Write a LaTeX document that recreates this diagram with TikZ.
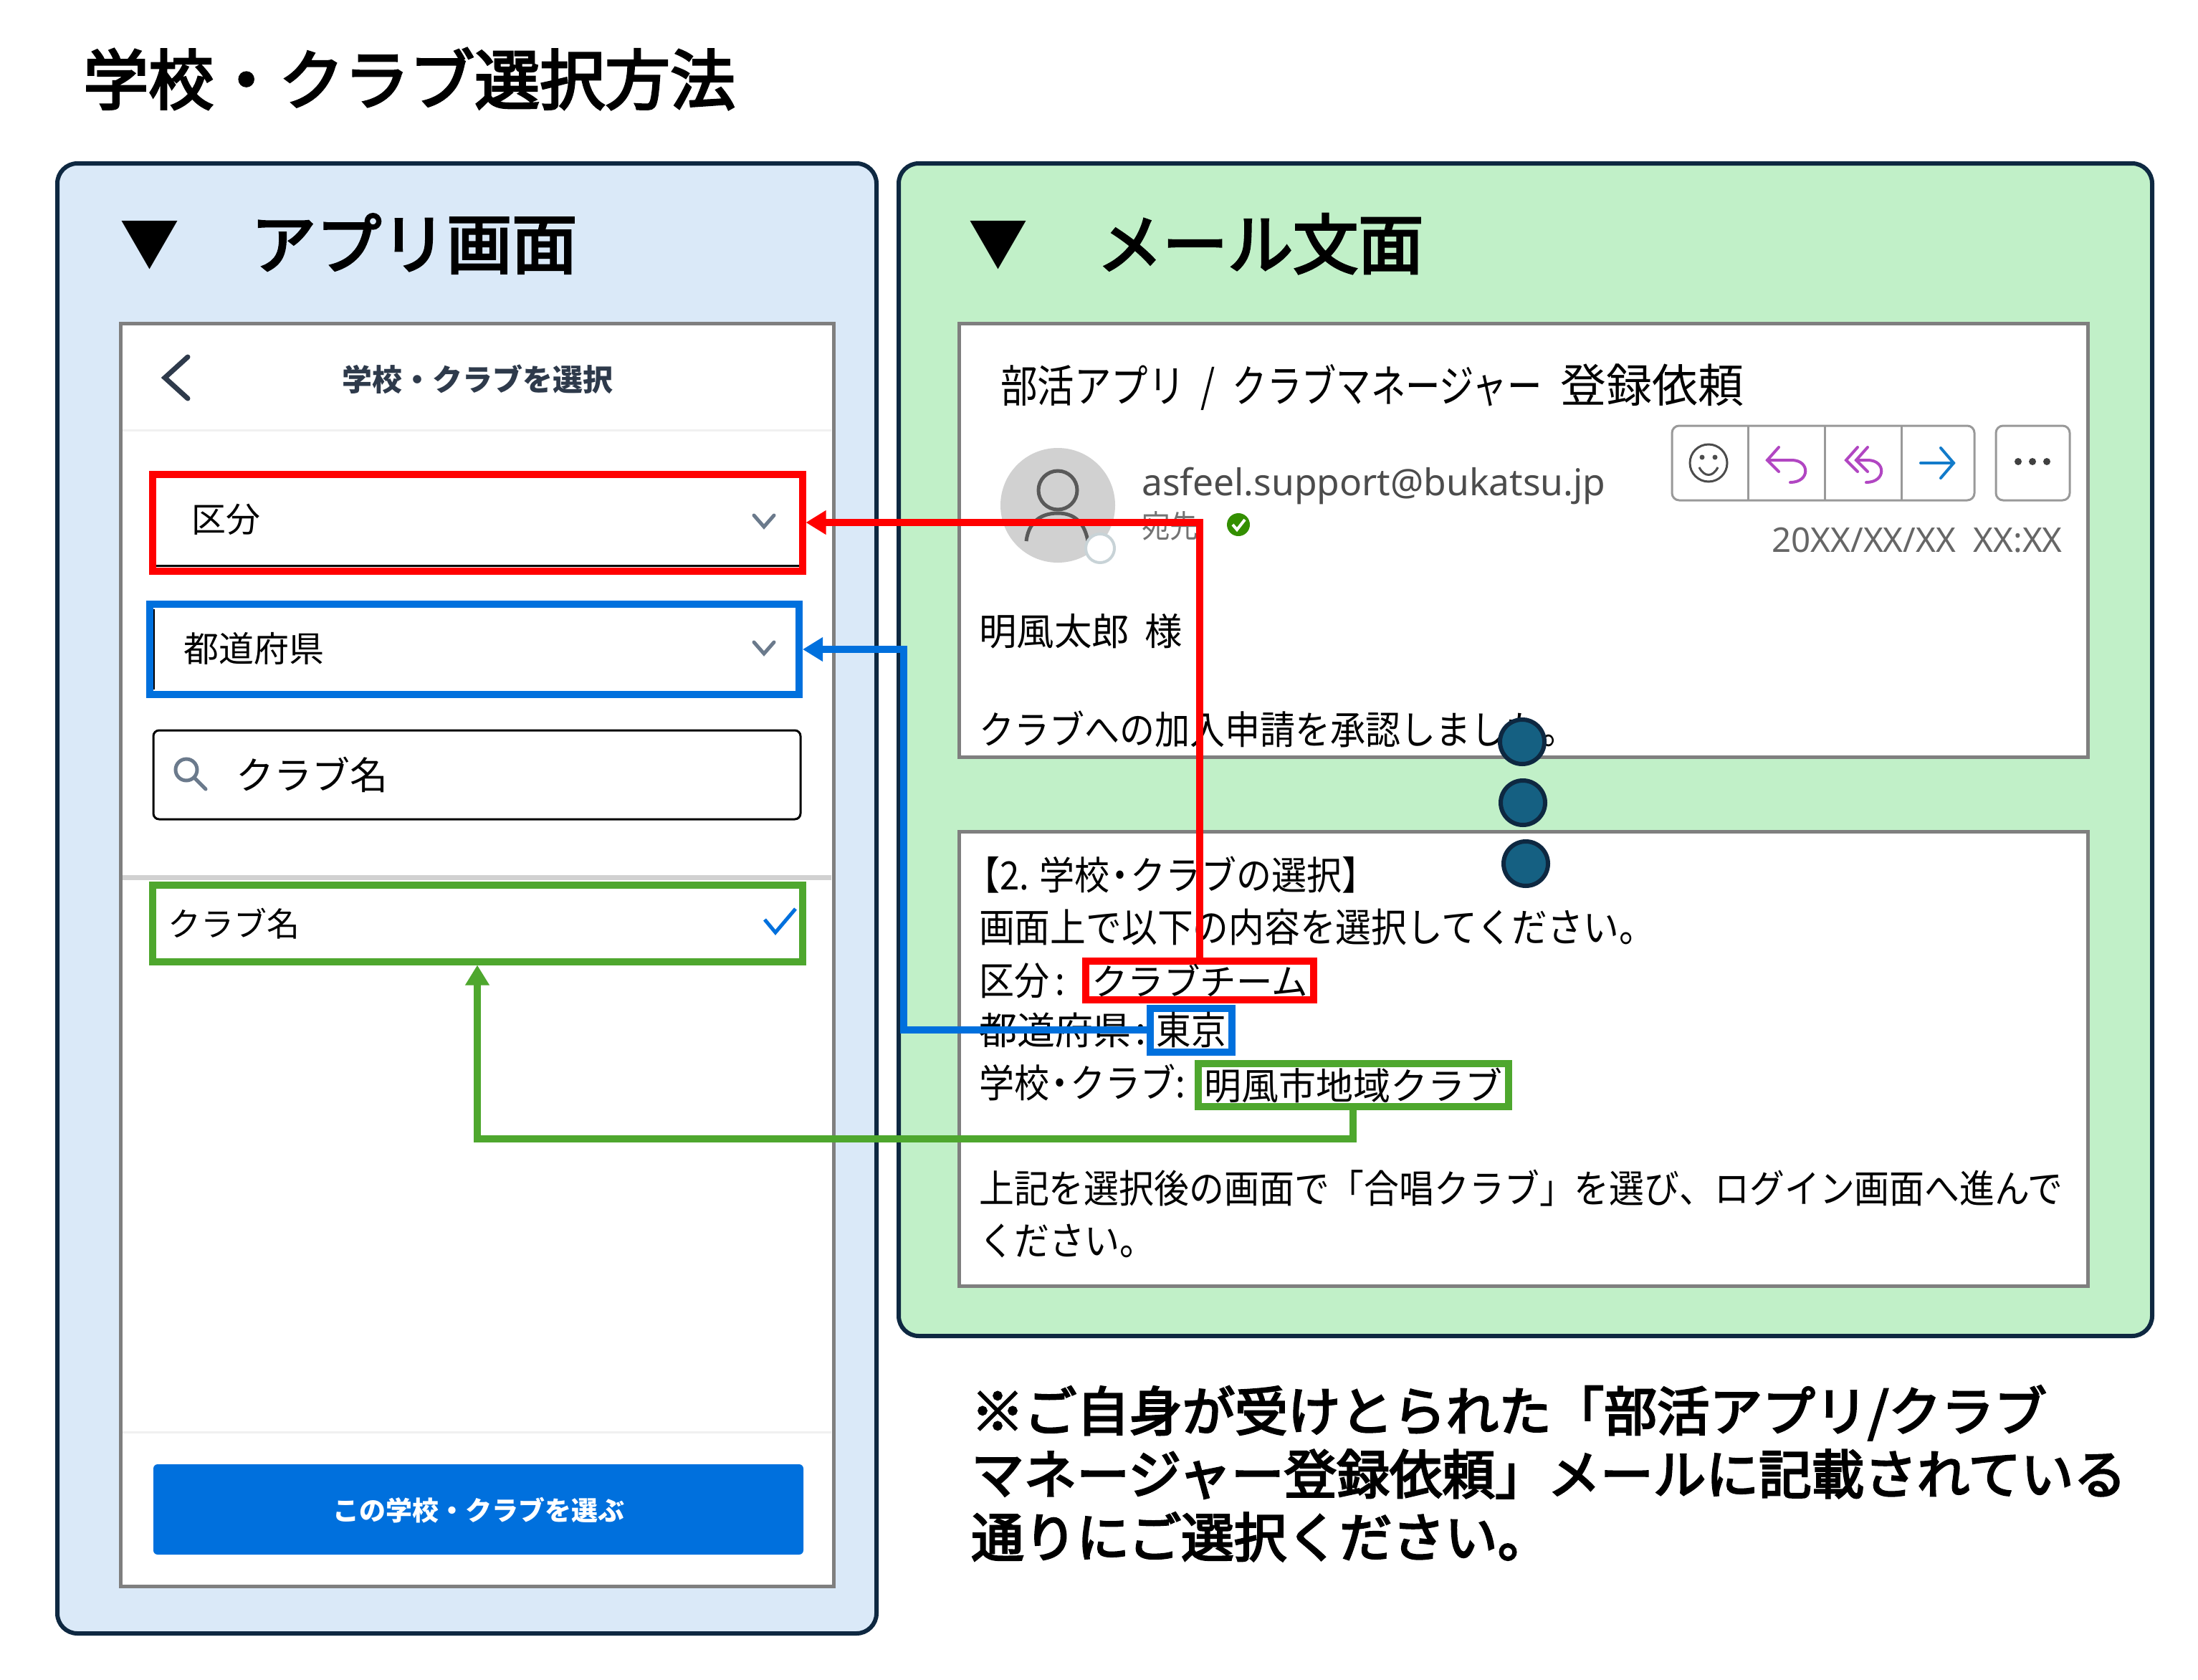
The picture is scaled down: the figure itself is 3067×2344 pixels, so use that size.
\documentclass[tikz,border=0pt]{standalone}
\usepackage{fontspec}
\usetikzlibrary{arrows.meta}
\setmainfont{Noto Sans CJK JP}
\newfontfamily\cjkmail[FakeStretch=0.9]{Noto Sans CJK JP}
\newfontfamily\cjksubject[FakeStretch=0.83]{Noto Sans CJK JP}
\newfontfamily\cjktight[FakeStretch=0.78]{Noto Sans CJK JP}
\newfontfamily\cjkhead[FakeBold=3.5]{Noto Sans CJK JP}
\newfontfamily\latinmail{Noto Sans}
\newcommand{\fsize}[1]{\fontsize{#1}{#1}\selectfont}
\definecolor{panelblue}{HTML}{DAE9F8}
\definecolor{panelgreen}{HTML}{C1F0C8}
\definecolor{paneledge}{HTML}{0E2841}
\definecolor{dotfill}{HTML}{156082}
\definecolor{markred}{HTML}{FF0000}
\definecolor{markblue}{HTML}{0070DD}
\definecolor{markgreen}{HTML}{4EA72E}
\definecolor{slate}{HTML}{2E3A4B}
\definecolor{iconslate}{HTML}{6B7A8C}
\definecolor{frame}{HTML}{7F7F7F}
\definecolor{replypurple}{HTML}{B146C2}
\tikzset{
  panel/.style={draw=paneledge,line width=6pt,rounded corners=28pt},
  screen/.style={draw=frame,line width=5pt,fill=white},
  heading/.style={anchor=west,inner sep=0pt,font=\cjkhead\fsize{91}},
  marker/.style={inner sep=0pt,font=\fsize{83}},
  appbox/.style={draw,line width=10pt,inner sep=0pt,minimum width=907pt},
  apptext/.style={anchor=west,inner sep=0pt,font=\fsize{48}},
  refbox/.style={draw,line width=10pt,inner sep=0pt,fill=white},
  mailtext/.style={anchor=west,inner sep=0pt,font=\cjkmail\fsize{54.5}},
  link/.style={line width=10pt,-{Triangle[length=28pt,width=32pt]}},
  chevron/.style={draw=iconslate,line width=5pt,line cap=round},
  toolline/.style={draw=black!40,line width=3pt},
  replyline/.style={draw=replypurple,line width=4pt,line cap=round},
  dot/.style={circle,draw=paneledge,line width=6pt,fill=dotfill,inner sep=0pt,minimum size=62pt}
}
\begin{document}
\begin{tikzpicture}[x=1pt,y=-1pt]
  \useasboundingbox [fill=white] (0,0) rectangle (3067,2344);
  \node[heading] (maintitle) at (116,110) {学校・クラブ選択方法};
  % left panel
  \draw [panel,fill=panelblue] (80,228) rectangle (1223,2279);
  \node[marker] (appmark) at (209,342) {▼};
  \node[heading] (apptitle) at (350,340) {アプリ画面};
  \draw [screen] (168,451) rectangle (1163,2213);
  \draw [draw=black!6,line width=3pt] (171,600) -- (1160,600);
  \draw [draw=black!18,line width=7pt] (171,1224) -- (1160,1224);
  \draw [draw=black!6,line width=3pt] (171,1998) -- (1160,1998);
  \draw [draw=slate,line width=7pt,line cap=round] (262,498) -- (230,527) -- (262,556);
  \node[font=\bfseries\fsize{42},text=slate,inner sep=0pt] (apphead) at (666,529) {学校・クラブを選択};
  \draw [draw=black,line width=3pt] (217,789) -- (1115,789);
  \draw [draw=black,line width=2pt] (215,850) -- (215,962);
  \draw [draw=black,line width=3pt,rounded corners=8pt,fill=white] (214,1019) rectangle (1117,1143);
  \node[apptext] (kubunlabel) at (267,725) {区分};
  \node[apptext,font=\fsize{49}] (todolabel) at (256,905) {都道府県};
  \node[apptext,font=\fsize{53}] (searchlabel) at (329,1081) {クラブ名};
  \node[apptext,font=\fsize{46}] (clublabel) at (234,1289) {クラブ名};
  \draw [chevron] (1052,719) -- (1066,735) -- (1080,719);
  \draw [chevron] (1052,896) -- (1066,912) -- (1080,896);
  \draw [chevron] (260,1074) circle (15pt);
  \draw [chevron] (271,1085) -- (287,1101);
  \draw [draw=markblue,line width=5pt] (1067,1283) -- (1082,1301) -- (1110,1268);
  \node[appbox,draw=markred,minimum height=135pt] (kubunbox) at (666,729) {};
  \node[appbox,draw=markblue,minimum width=906pt,minimum height=126pt] (todobox) at (662,906) {};
  \node[appbox,draw=markgreen,minimum height=107pt] (clubbox) at (666,1288) {};
  \draw [fill=markblue,draw=none,rounded corners=6pt] (214,2043) rectangle (1121,2169);
  \node[font=\bfseries\fsize{37},text=white,inner sep=0pt] (selectbtn) at (668,2107) {この学校・クラブを選ぶ};
  % right panel
  \draw [panel,fill=panelgreen] (1254,228) rectangle (3003,1864);
  \node[marker] (mailmark) at (1393,342) {▼};
  \node[heading] (mailtitle) at (1531,340) {メール文面};
  \draw [screen] (1338,451) rectangle (2913,1056);
  \draw [screen] (1338,1160) rectangle (2913,1794);
  \node[mailtext,font=\cjksubject\fsize{62}] (subject) at (1396,540) {部活アプリ\kern10pt{} /\kern13pt{} {\cjktight クラブマネージャー}\kern14pt{} {\normalfont\fsize{64}登録依頼}};
  \fill [black!18] (1476,705) circle (80pt);
  \draw [draw=black!65,line width=5pt] (1476,684) circle (27pt);
  \draw [draw=black!65,line width=5pt] (1432,755) .. controls (1436,722) and (1460,716) .. (1476,716) .. controls (1492,716) and (1512,722) .. (1518,755);
  \draw [draw=cyan!30!black!25,line width=4pt,fill=white] (1535,765) circle (20pt);
  \node[anchor=west,inner sep=0pt,font=\latinmail\fsize{51.5},text=black!70] (sender) at (1593,678) {asfeel.support@bukatsu.jp};
  \node[anchor=west,inner sep=0pt,font=\cjkmail\fsize{44},text=black!55] (toname) at (1593,734) {宛先};
  \fill [green!45!black!80!yellow] (1728,732) circle (16pt);
  \draw [draw=white,line width=4pt] (1720,732) -- (1726,739) -- (1737,725);
  \draw [toolline,rounded corners=10pt] (2333,594) rectangle (2755,698);
  \draw [toolline,rounded corners=10pt] (2785,594) rectangle (2888,698);
  \draw [toolline] (2439,594) -- (2439,698);
  \draw [toolline] (2546,594) -- (2546,698);
  \draw [toolline] (2653,594) -- (2653,698);
  \draw [draw=black!70,line width=3pt] (2384,646) circle (26pt);
  \fill [black!70] (2375,638) circle (3.5pt) (2393,638) circle (3.5pt);
  \draw [draw=black!70,line width=3pt] (2371,652) .. controls (2378,666) and (2390,666) .. (2397,652);
  \draw [replyline] (2482,624) -- (2466,642) -- (2482,658);
  \draw [replyline] (2466,642) -- (2500,642) .. controls (2526,642) and (2526,673) .. (2498,673);
  \draw [replyline] (2592,624) -- (2576,642) -- (2592,658);
  \draw [replyline] (2606,624) -- (2590,642) -- (2606,658);
  \draw [replyline] (2590,642) -- (2606,642) .. controls (2632,642) and (2632,673) .. (2604,673);
  \draw [draw=cyan!60!blue,line width=4pt,line cap=round] (2680,646) -- (2726,646);
  \draw [draw=cyan!60!blue,line width=4pt,line cap=round] (2708,625) -- (2726,646) -- (2708,667);
  \fill [black!75] (2816,644) circle (5pt) (2836,644) circle (5pt) (2856,644) circle (5pt);
  \node[anchor=east,inner sep=0pt,font=\latinmail\fsize{47.5},text=black!60] (maildate) at (2878,754) {20XX/XX/XX\ \ XX:XX};
  \node[mailtext,font=\fsize{52.5}] (addressee) at (1366,881) {明風太郎\kern10pt{} 様};
  \node[mailtext] (approved) at (1366,1017) {クラブへの加入申請を承認しました。};
  \node[mailtext] (stephead) at (1346,1220) {【2. 学校\kern-10pt・\kern-10pt クラブの選択】};
  \node[mailtext,font=\cjkmail\fsize{55.3}] (stepline) at (1366,1294) {画面上で以下の内容を選択してください。};
  \node[mailtext] (kubunname) at (1366,1368) {区分\kern8pt:};
  \node[mailtext,font=\fsize{53}] (todoname) at (1366,1437) {都道府県\kern6pt:};
  \node[mailtext] (clubname) at (1366,1510) {学校\kern-10pt・\kern-10pt クラブ:};
  \node[refbox,draw=markred,minimum width=318pt,minimum height=54pt,font=\fsize{50.5}] (kubunref) at (1674,1368) {クラブチーム};
  \node[refbox,draw=markblue,minimum width=114pt,minimum height=61pt,font=\cjkmail\fsize{54}] (todoref) at (1662,1437) {東京};
  \node[refbox,draw=markgreen,minimum width=433pt,minimum height=60pt,font=\fsize{52}] (clubref) at (1888,1514) {明風市地域クラブ};
  \node[mailtext,font=\cjkmail\fsize{54.3}] (afterline) at (1366,1658) {上記を選択後の画面で「合唱クラブ」を選び、ログイン画面へ進んで};
  \node[mailtext] (afterend) at (1366,1731) {ください。};
  % connectors
  \coordinate (todobend) at (1261,906);
  \draw [link,draw=markred] (kubunref.north) |- (kubunbox.east);
  \draw [link,draw=markblue] (todoref.west) -| (todobend) -- (todobox.east);
  \draw [link,draw=markgreen] (clubref.south) -- ++(0,40) -| (clubbox.south);
  \node[dot] (dotone) at (2124,1035) {};
  \node[dot] (dottwo) at (2125,1120) {};
  \node[dot] (dotthree) at (2129,1205) {};
  \node[anchor=north west,inner sep=0pt,align=left,font=\cjkhead\fontsize{73.6}{88}\selectfont] (note) at (1355,1933) {※ご自身が受けとられた「部活アプリ/クラブ\\マネージャー登録依頼」メールに記載されている\\通りにご選択ください。};
\end{tikzpicture}
\end{document}
